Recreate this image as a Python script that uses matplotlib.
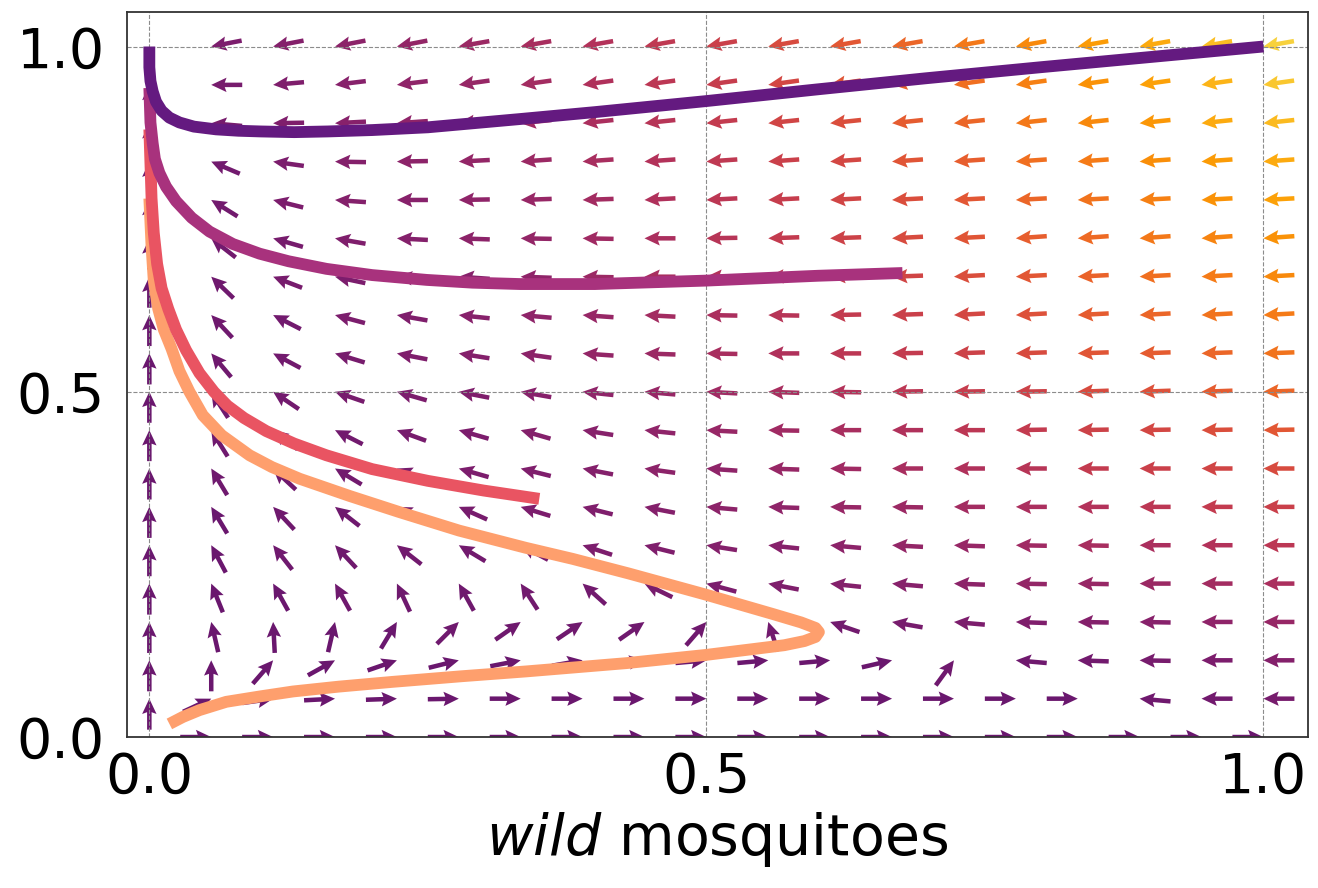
import numpy as np
import matplotlib
matplotlib.use("Agg")
import matplotlib.pyplot as plt

nan = np.nan

# quiver grid: 19 columns (x = 0 .. 1) and 20 rows (y = 0 .. 1.056), step 1/18
x_grid = np.arange(19) / 18
y_grid = np.arange(20) / 18

# arrow direction on screen, degrees (0 = right, 90 = up), top row first
angle_rows = [
    [nan, 192, 192, 192, 192, 192, 192, 192, 192, 192, 192, 192, 192, 192, 192, 192, 192, 192, 192],
    [nan, 191, 191, 191, 191, 190, 190, 190, 190, 190, 190, 190, 190, 190, 190, 190, 190, 190, 190],
    [90, 180, 185, 187, 187, 188, 188, 188, 188, 188, 188, 188, 188, 188, 188, 188, 188, 188, 188],
    [90, 175, 181, 183, 184, 185, 186, 186, 186, 186, 186, 186, 186, 186, 186, 186, 186, 186, 186],
    [90, 157, 172, 179, 181, 183, 184, 184, 184, 184, 184, 184, 184, 184, 184, 184, 184, 184, 184],
    [90, 148, 166, 176, 180, 181, 182, 182, 183, 183, 183, 183, 183, 183, 183, 183, 183, 183, 183],
    [90, 142, 164, 170, 177, 178, 179, 179, 180, 181, 182, 182, 183, 183, 184, 184, 184, 184, 184],
    [90, 136, 159, 168, 174, 176, 178, 179, 180, 180, 181, 182, 182, 183, 183, 183, 183, 183, 183],
    [90, 133, 153, 165, 170, 174, 175, 176, 177, 179, 179, 181, 182, 183, 183, 183, 183, 183, 183],
    [90, 130, 152, 163, 169, 171, 172, 176, 178, 179, 180, 180, 181, 182, 182, 182, 182, 182, 182],
    [90, 123, 146, 161, 164, 169, 170, 174, 175, 177, 178, 179, 181, 181, 181, 182, 182, 182, 182],
    [90, 122, 142, 153, 160, 164, 164, 171, 174, 177, 179, 180, 180, 180, 181, 181, 181, 181, 181],
    [90, 121, 137, 149, 158, 164, 166, 169, 172, 176, 178, 179, 180, 180, 180, 180, 180, 180, 180],
    [90, 121, 133, 142, 153, 156, 163, 166, 169, 175, 178, 179, 179, 180, 180, 180, 180, 180, 180],
    [90, 118, 128, 133, 142, 149, 152, 162, 166, 171, 174, 175, 177, 178, 179, 179, 180, 180, 180],
    [90, 112, 119, 119, 115, 119, 123, 138, 154, 165, 169, 174, 175, 178, 179, 179, 180, 180, 180],
    [90, 103, 93, 77, 59, 45, 35, 34, 35, 49, 108, 161, 170, 175, 178, 179, 179, 180, 180],
    [90, 90, 49, 29, 19, 14, 11, 10, 8, 5, 5, 5, 13, 54, 175, 178, 179, 180, 180],
    [90, 25, 8, 3, 2, 1, 0, 0, 0, 0, 0, 0, 0, 0, 0, 0, 175, 180, 180],
    [nan, 0, 0, 0, 0, 0, 0, 0, 0, 0, 0, 0, 0, 0, 0, 0, 0, 0, 0],
]

# speed as position on the inferno colour map (x100), top row first
speed_rows = [
    [31, 35, 37, 39, 42, 45, 48, 51, 54, 58, 62, 66, 70, 74, 78, 81, 84, 87, 90],
    [30, 34, 36, 38, 40, 42, 45, 48, 51, 54, 58, 62, 66, 70, 74, 78, 81, 85, 89],
    [30, 33, 35, 37, 39, 41, 44, 47, 50, 53, 57, 61, 65, 68, 72, 76, 79, 83, 87],
    [30, 33, 35, 37, 39, 41, 43, 46, 49, 52, 56, 59, 63, 66, 70, 74, 77, 81, 84],
    [30, 32, 34, 36, 38, 40, 42, 45, 48, 51, 54, 57, 61, 64, 68, 71, 75, 78, 81],
    [30, 32, 34, 36, 37, 39, 41, 44, 47, 50, 53, 56, 59, 62, 66, 69, 72, 76, 79],
    [30, 32, 33, 35, 36, 38, 40, 43, 46, 49, 52, 55, 58, 61, 64, 67, 70, 73, 76],
    [30, 31, 33, 34, 36, 37, 39, 42, 45, 48, 50, 53, 56, 59, 62, 65, 68, 71, 74],
    [30, 31, 32, 34, 35, 37, 39, 41, 44, 46, 49, 52, 54, 57, 60, 63, 66, 69, 71],
    [30, 31, 32, 33, 35, 36, 38, 40, 42, 45, 47, 50, 52, 55, 58, 61, 63, 66, 69],
    [30, 31, 32, 33, 34, 35, 37, 39, 41, 43, 45, 48, 50, 53, 55, 58, 60, 63, 66],
    [30, 31, 31, 32, 33, 34, 36, 37, 39, 41, 43, 45, 47, 50, 52, 55, 57, 59, 62],
    [30, 31, 31, 32, 33, 34, 35, 36, 38, 39, 41, 43, 45, 47, 49, 52, 54, 56, 58],
    [30, 30, 31, 31, 32, 33, 34, 35, 36, 38, 39, 41, 42, 44, 46, 48, 50, 52, 54],
    [30, 30, 31, 31, 32, 32, 33, 34, 35, 36, 37, 38, 40, 41, 43, 45, 46, 48, 50],
    [30, 30, 30, 31, 31, 31, 32, 32, 33, 34, 35, 36, 37, 38, 40, 41, 42, 44, 46],
    [30, 30, 30, 30, 30, 31, 31, 31, 31, 31, 32, 32, 33, 34, 35, 36, 37, 39, 41],
    [30, 30, 30, 30, 30, 30, 30, 30, 30, 30, 30, 30, 30, 31, 31, 32, 33, 34, 36],
    [30, 30, 30, 30, 30, 30, 30, 30, 30, 30, 30, 30, 30, 30, 30, 30, 31, 32, 33],
    [30, 30, 30, 30, 30, 30, 30, 30, 30, 30, 30, 30, 30, 30, 30, 30, 30, 30, 30],
]

# trajectories (wild, other)
traj1_x = [1.0, 0.9, 0.8, 0.697, 0.6, 0.5, 0.4, 0.333, 0.25, 0.2, 0.16, 0.13, 0.1, 0.08,
           0.06, 0.04, 0.027, 0.018, 0.011, 0.006, 0.003, 0.001, 0.0, 0.0]
traj1_y = [1.0, 0.985, 0.97, 0.954, 0.938, 0.921, 0.905, 0.895, 0.883, 0.879, 0.877, 0.876,
           0.877, 0.878, 0.88, 0.884, 0.89, 0.897, 0.907, 0.92, 0.935, 0.95, 0.97, 1.0]

traj2_x = [0.676, 0.6, 0.5, 0.4, 0.333, 0.29, 0.249, 0.2, 0.159, 0.125, 0.099, 0.075, 0.054,
           0.038, 0.024, 0.015, 0.009, 0.005, 0.003, 0.001, 0.0]
traj2_y = [0.672, 0.668, 0.661, 0.656, 0.656, 0.658, 0.662, 0.669, 0.678, 0.689, 0.7, 0.714,
           0.732, 0.752, 0.776, 0.797, 0.817, 0.837, 0.86, 0.89, 0.94]

traj3_x = [0.35, 0.3, 0.25, 0.2, 0.159, 0.13, 0.105, 0.085, 0.07, 0.058, 0.045, 0.033, 0.024,
           0.017, 0.011, 0.007, 0.004, 0.002, 0.001, 0.0]
traj3_y = [0.345, 0.357, 0.371, 0.388, 0.408, 0.425, 0.443, 0.462, 0.48, 0.5, 0.527, 0.56,
           0.59, 0.62, 0.65, 0.685, 0.73, 0.78, 0.83, 0.88]

traj4_x = [0.018, 0.03, 0.045, 0.069, 0.1, 0.129, 0.17, 0.219, 0.28, 0.338, 0.428, 0.5, 0.54,
           0.57, 0.588, 0.598, 0.601, 0.598, 0.585, 0.56, 0.5, 0.43, 0.38, 0.338, 0.278, 0.224,
           0.18, 0.135, 0.11, 0.09, 0.065, 0.048, 0.036, 0.027, 0.02, 0.013, 0.008, 0.004,
           0.002, 0.0]
traj4_y = [0.019, 0.029, 0.039, 0.051, 0.059, 0.066, 0.073, 0.08, 0.088, 0.095, 0.107, 0.119,
           0.127, 0.133, 0.139, 0.145, 0.152, 0.158, 0.166, 0.178, 0.206, 0.237, 0.258, 0.274,
           0.299, 0.326, 0.349, 0.374, 0.391, 0.408, 0.437, 0.466, 0.5, 0.53, 0.562, 0.59,
           0.62, 0.66, 0.71, 0.78]

fig = plt.figure(figsize=(13.18, 8.88), dpi=100)
ax = fig.add_axes([0.0964, 0.170, 0.896, 0.8165])

X, Y = np.meshgrid(x_grid, y_grid)
ang = np.deg2rad(np.array(angle_rows, dtype=float)[::-1])
speed = np.array(speed_rows, dtype=float)[::-1] / 100
U = np.ma.masked_invalid(np.cos(ang))
V = np.ma.masked_invalid(np.sin(ang))

ax.quiver(X, Y, U, V, speed, cmap="inferno", clim=(0, 1), pivot="tip",
          units="inches", scale_units="inches", scale=1 / 0.31, width=0.045,
          headwidth=3.2, headlength=3.4, headaxislength=3)

# later lines on top, so the first trajectory ends up uppermost
colors = plt.cm.magma(np.linspace(0.3, 0.8, 4))
trajs = [(traj1_x, traj1_y), (traj2_x, traj2_y), (traj3_x, traj3_y), (traj4_x, traj4_y)]
for i in [3, 2, 1, 0]:
    ax.plot(trajs[i][0], trajs[i][1], color=colors[i], lw=8.5, zorder=3,
            solid_capstyle="butt", solid_joinstyle="round")

ax.set_xlim(-0.02, 1.04)
ax.set_ylim(0, 1.05)
ax.set_xticks([0, 0.5, 1.0])
ax.set_yticks([0, 0.5, 1.0])
ax.set_xticklabels(["0.0", "0.5", "1.0"])
ax.set_yticklabels(["0.0", "0.5", "1.0"])
ax.tick_params(axis="both", length=0, labelsize=40)
ax.tick_params(axis="x", pad=10)
ax.tick_params(axis="y", pad=16)
ax.grid(True, linestyle="--", linewidth=0.8, color="0.55")
for s in ax.spines.values():
    s.set_linewidth(1.3)
    s.set_color("0.2")

ax.set_xlabel(r"$\it{wild}$ mosquitoes", fontsize=41, labelpad=4)
# the y label sits mostly beyond the left edge, as in the original
ax.set_ylabel(r"$\it{Wolbachia}$ mosquitoes", fontsize=41)
ax.yaxis.set_label_coords(-0.105, 0.52)

fig.savefig("out.png", dpi=100)
